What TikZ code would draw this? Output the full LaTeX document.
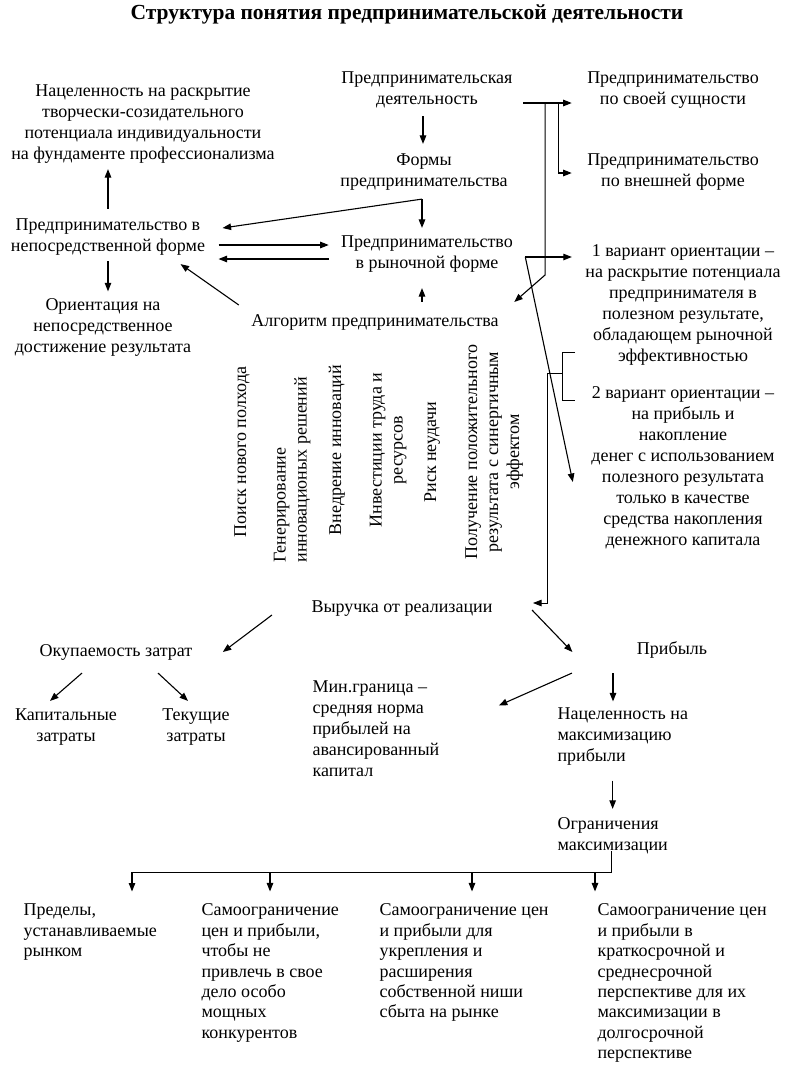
\documentclass[tikz,border=0pt]{standalone}
\usepackage{fontspec}
\setmainfont{Liberation Serif}
\usetikzlibrary{calc,arrows.meta}

\begin{document}
\begin{tikzpicture}
[x=1pt,y=-1pt,line width=1.1pt,>={Triangle[length=8.5pt,width=6.5pt]},
every node/.style={align=center,inner sep=0pt,
	font=\fontsize{18}{21}\selectfont,
	execute at begin node=\strut,execute at end node=\strut},
vert/.style={rotate=90},
lft/.style={align=left,anchor=west},
bot/.style={lft,font=\fontsize{18}{20.4}\selectfont}]
\useasboundingbox (0,0) rectangle (790,1066);
\node[font=\fontsize{21.5}{24}\selectfont\bfseries] (title) at (407,15)
	{Структура понятия предпринимательской деятельности};
% upper part
\node (pd) at (427,91) {Предпринимательская\\деятельность};
\node (nac) at (143,125) {Нацеленность на раскрытие\\творчески-созидательного\\потенциала индивидуальности\\на фундаменте профессионализма};
\node (sus) at (673,91) {Предпринимательство\\по своей сущности};
\node (vnesh) at (673,173) {Предпринимательство\\по внешней форме};
\node (formy) at (424,173) {Формы\\предпринимательства};
\node (nep) at (108,238) {Предпринимательство в\\непосредственной форме};
\node (orient) at (103,329) {Ориентация на\\непосредственное\\достижение результата};
\node (rynok) at (427,255) {Предпринимательство\\в рыночной форме};
\node (alg) at (375,322) {Алгоритм предпринимательства};
\node (var1) at (683,306) {1 вариант ориентации –\\на раскрытие потенциала\\предпринимателя в\\полезном результате,\\обладающем рыночной\\эффективностью};
\node (var2) at (683,469) {2 вариант ориентации –\\на прибыль и\\накопление\\денег с использованием\\полезного результата\\только в качестве\\средства накопления\\денежного капитала};
% steps of the algorithm
\node[vert] (poisk) at (242,452) {Поиск нового полхода};
\node[vert,align=left,anchor=west] (gen) at (293.5,563) {Генерирование\\инновационых решений};
\node[vert] (vnedr) at (337,450) {Внедрение инноваций};
\node[vert] (invest) at (389.5,450) {Инвестиции труда и\\ресурсов};
\node[vert] (risk) at (432,452) {Риск неудачи};
\node[vert] (poluch) at (495.5,452) {Получение положительного\\результата с синергичным\\эффектом};
% lower part
\node (vyr) at (402,608) {Выручка от реализации};
\node (okup) at (116,652) {Окупаемость затрат};
\node (kap) at (66,728) {Капитальные\\затраты};
\node (tek) at (196,728) {Текущие\\затраты};
\node[lft] (min) at (312,731.5) {Мин.граница –\\средняя норма\\прибылей на\\авансированный\\капитал};
\node (prib) at (672,650) {Прибыль};
\node[lft] (nac2) at (557,738) {Нацеленность на\\максимизацию\\прибыли};
\node[lft] (ogr) at (557,837) {Ограничения\\максимизации};
\node[bot] (pred) at (23,933.4) {Пределы,\\устанавливаемые\\рынком};
\node[bot] (samo1) at (201,974.2) {Самоограничение\\цен и прибыли,\\чтобы не\\привлечь в свое\\дело особо\\мощных\\конкурентов};
\node[bot] (samo2) at (379,964) {Самоограничение цен\\и прибыли для\\укрепления и\\расширения\\собственной ниши\\сбыта на рынке};
\node[bot] (samo3) at (597,984.4) {Самоограничение цен\\и прибыли в\\краткосрочной и\\среднесрочной\\перспективе для их\\максимизации в\\долгосрочной\\перспективе};

% connectors, upper part
\draw[->,shorten <=5pt,shorten >=9pt] ([xshift=-4pt]pd.south) -- ([xshift=-4pt]pd.south |- formy.north);
\coordinate (f1) at ($(formy.south)+(-2,6)$);
\draw[->] (f1) -- ($(nep.east)+(17,-10)$);
\draw[->,shorten >=7pt] (f1) -- (f1 |- rynok.north);
\draw[->,shorten <=9pt,shorten >=3pt] (nep.north) -- (nep.north |- nac.south);
\draw[->,shorten <=3pt,shorten >=7pt] (nep.south) -- (nep.south |- orient.north);
\draw[->] ($(nep.east)+(13,7)$) -- ($(rynok.west)+(-12,-10)$);
\draw[->] ($(rynok.west)+(-12,4)$) -- ($(nep.east)+(13,21)$);
\draw[->] ($(alg.west)+(-12,-17)$) -- ($(nep.south east)+(-25,6)$);
\draw[->,shorten <=9pt,shorten >=13pt] ([xshift=-5pt]rynok.south |- alg.north) -- ([xshift=-5pt]rynok.south);
\coordinate (b1) at ($(pd.east)+(45,12)$);
\coordinate (b2) at ($(pd.east)+(32,12)$);
\draw ($(pd.east)+(10,12)$) -- (b1);
\draw[->,shorten >=15pt] (b1) -- (b1 -| sus.west);
\draw[->,shorten >=15pt] (b1) |- (vnesh.west);
\draw[->] (b2) -- ++(0,172) -- ($(alg.east)+(15,-20)$);
\coordinate (r1) at ($(rynok.east)+(12,2)$);
\draw[->,shorten >=13pt] (r1) -- (r1 -| var1.west);
\draw[->] (r1) -- ($(var2.west)+(-18,13)$);
\coordinate (k) at (562,373);
\draw[line width=0.8pt] ($(k)+(13,-21)$) -- ($(k)+(0,-21)$) -- ($(k)+(0,27)$) -- ($(k)+(13,27)$);
\draw[->,line width=0.8pt] (k) -- ++(-15,0) -- ++(0,230) -- ($(vyr.east)+(40,-5)$);

% connectors, lower part
\draw[->] ($(vyr.west)+(-39,7)$) -- ($(okup.east)+(30,0)$);
\draw[->] ($(vyr.east)+(39,2)$) -- ($(prib.west)+(-64,2)$);
\draw[->] ($(okup.south)+(-34,10)$) -- ($(kap.north)+(-16,-7)$);
\draw[->] ($(okup.south)+(42,10)$) -- ($(tek.north)+(-8,-7)$);
\draw[->] ($(prib.south)+(-100,12)$) -- ($(min.east)+(59,-26)$);
\draw[->] ($(prib.south)+(-59,12)$) -- ($(nac2.north west)+(56,-6)$);
\draw[->,shorten <=12pt,shorten >=8pt] (ogr.north |- nac2.south) -- (ogr.north);
\coordinate (o1) at ($(ogr.south)+(-1,-6)$);
\coordinate (o2) at ($(o1)+(0,21)$);
\draw (o1) -- (o2) -- (132,0 |- o2);
\draw[->,shorten >=12pt] (132,0 |- o2) -- (132,0 |- pred.north);
\draw[->,shorten >=12pt] (270,0 |- o2) -- (270,0 |- samo1.north);
\draw[->,shorten >=12pt] (472,0 |- o2) -- (472,0 |- samo2.north);
\draw[->,shorten >=12pt] (595,0 |- o2) -- (595,0 |- samo3.north);
\end{tikzpicture}
\end{document}
